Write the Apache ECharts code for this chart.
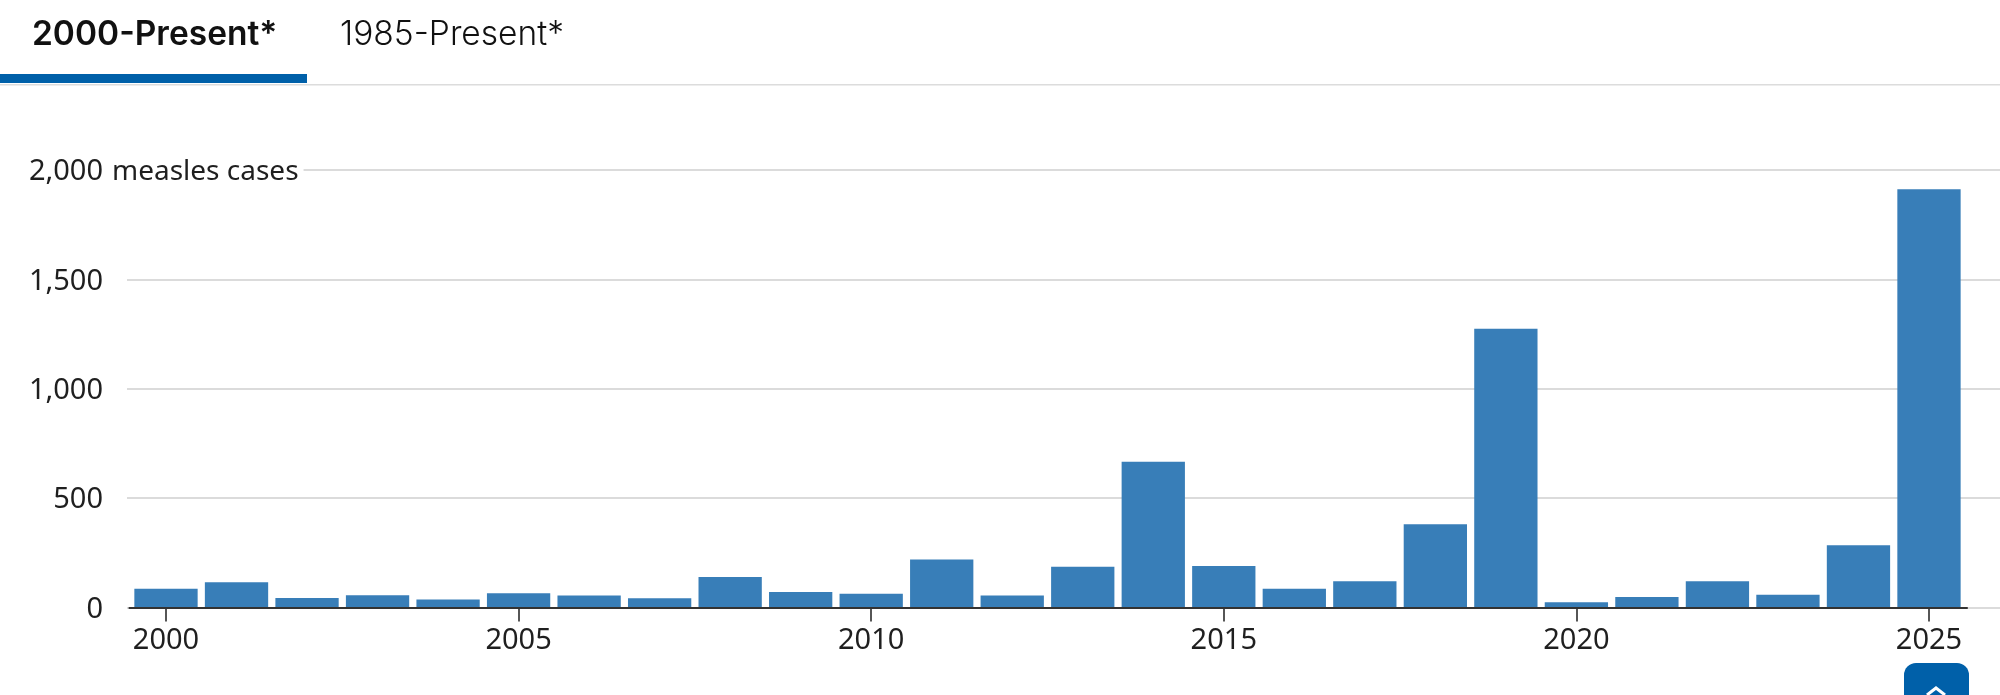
<!DOCTYPE html>
<html>
<head>
<meta charset="utf-8">
<title>Measles cases</title>
<script src="https://cdn.jsdelivr.net/npm/echarts@6/dist/echarts.min.js"></script>
<style>
  html, body { margin: 0; padding: 0; background: #fff; }
  #grafico { width: 2000px; height: 695px; }
</style>
</head>
<body>
<div id="grafico"></div>
<script>
const years = [2000, 2001, 2002, 2003, 2004, 2005, 2006, 2007, 2008, 2009, 2010, 2011, 2012,
  2013, 2014, 2015, 2016, 2017, 2018, 2019, 2020, 2021, 2022, 2023, 2024, 2025];
const cases = [86, 116, 44, 56, 37, 66, 55, 43, 140, 71, 63, 220, 55,
  187, 667, 190, 86, 120, 381, 1274, 24, 49, 120, 59, 285, 1912];
const yearTicks = [2000, 2005, 2010, 2015, 2020, 2025];
const caseTicks = [0, 500, 1000, 1500, 2000];
const tabs = ["2000-Present*", "1985-Present*"];
const yUnit = "measles cases";

const fuente = '"Noto Sans", sans-serif';
const tinta = "#1f1f1f";

const miGrafico = echarts.init(document.getElementById("grafico"), null, { width: 2000, height: 695 });

const option = {
  animation: false,
  backgroundColor: "#fff",
  grid: { left: 127, right: 0, top: 170, bottom: 87.4 },
  xAxis: {
    type: "value",
    min: 1999.447,
    max: 2026.007,
    splitLine: { show: false },
    axisLine: { show: false },
    axisTick: {
      show: true,
      customValues: yearTicks,
      length: 14,
      lineStyle: { color: tinta, width: 1.5 }
    },
    axisLabel: {
      customValues: yearTicks,
      formatter: (v) => String(v),
      margin: 19,
      color: tinta,
      fontFamily: fuente,
      fontSize: 29,
      showMinLabel: true,
      showMaxLabel: true
    }
  },
  yAxis: {
    type: "value",
    min: caseTicks[0],
    max: caseTicks[caseTicks.length - 1],
    interval: 500,
    axisLine: { show: false },
    axisTick: { show: false },
    splitLine: { lineStyle: { color: "#cfcfcf", width: 1.5 } },
    axisLabel: {
      margin: 24,
      formatter: (v) => "{n|" + v.toLocaleString("en-US") + "}",
      rich: {
        n: { color: tinta, fontFamily: fuente, fontSize: 29, padding: [4, 0, 0, 0] }
      }
    }
  },
  series: [
    {
      type: "bar",
      barWidth: 63.3,
      itemStyle: { color: "#387eb8" },
      data: years.map((y, i) => [y, cases[i]]),
      markLine: {
        silent: true,
        symbol: "none",
        label: { show: false },
        lineStyle: { color: "#333", width: 2, type: "solid" },
        data: [[{ coord: [1999.47, 0] }, { coord: [2025.55, 0] }]]
      }
    }
  ],
  graphic: [
    { type: "text", left: 112, top: 158, z: 10,
      style: { text: yUnit, fontFamily: fuente, fontSize: 28, fill: tinta, backgroundColor: "#fff", padding: [0, 5, 0, 0] } },
    { type: "rect", left: 0, top: 84, z: 5, shape: { width: 2000, height: 1.5 }, style: { fill: "#dcdcdc" } },
    { type: "rect", left: 0, top: 74, z: 6, shape: { width: 307, height: 9 }, style: { fill: "#0060a9" } },
    { type: "text", left: 32, top: 18, z: 10,
      style: { text: tabs[0], fontFamily: "Inter", fontWeight: 600, fontSize: 33.5, fill: "#111" } },
    { type: "text", left: 340, top: 18, z: 10,
      style: { text: tabs[1], fontFamily: "Inter", fontWeight: 300, fontSize: 33.5, fill: "#111" } },
    { type: "rect", left: 1904, top: 663, z: 10, shape: { width: 65, height: 50, r: 12 }, style: { fill: "#0060a9" } },
    { type: "polyline", z: 11, shape: { points: [[1927, 695], [1936, 688], [1945, 695]] },
      style: { stroke: "#fff", lineWidth: 3, fill: null } }
  ]
};

miGrafico.setOption(option);
</script>
</body>
</html>
